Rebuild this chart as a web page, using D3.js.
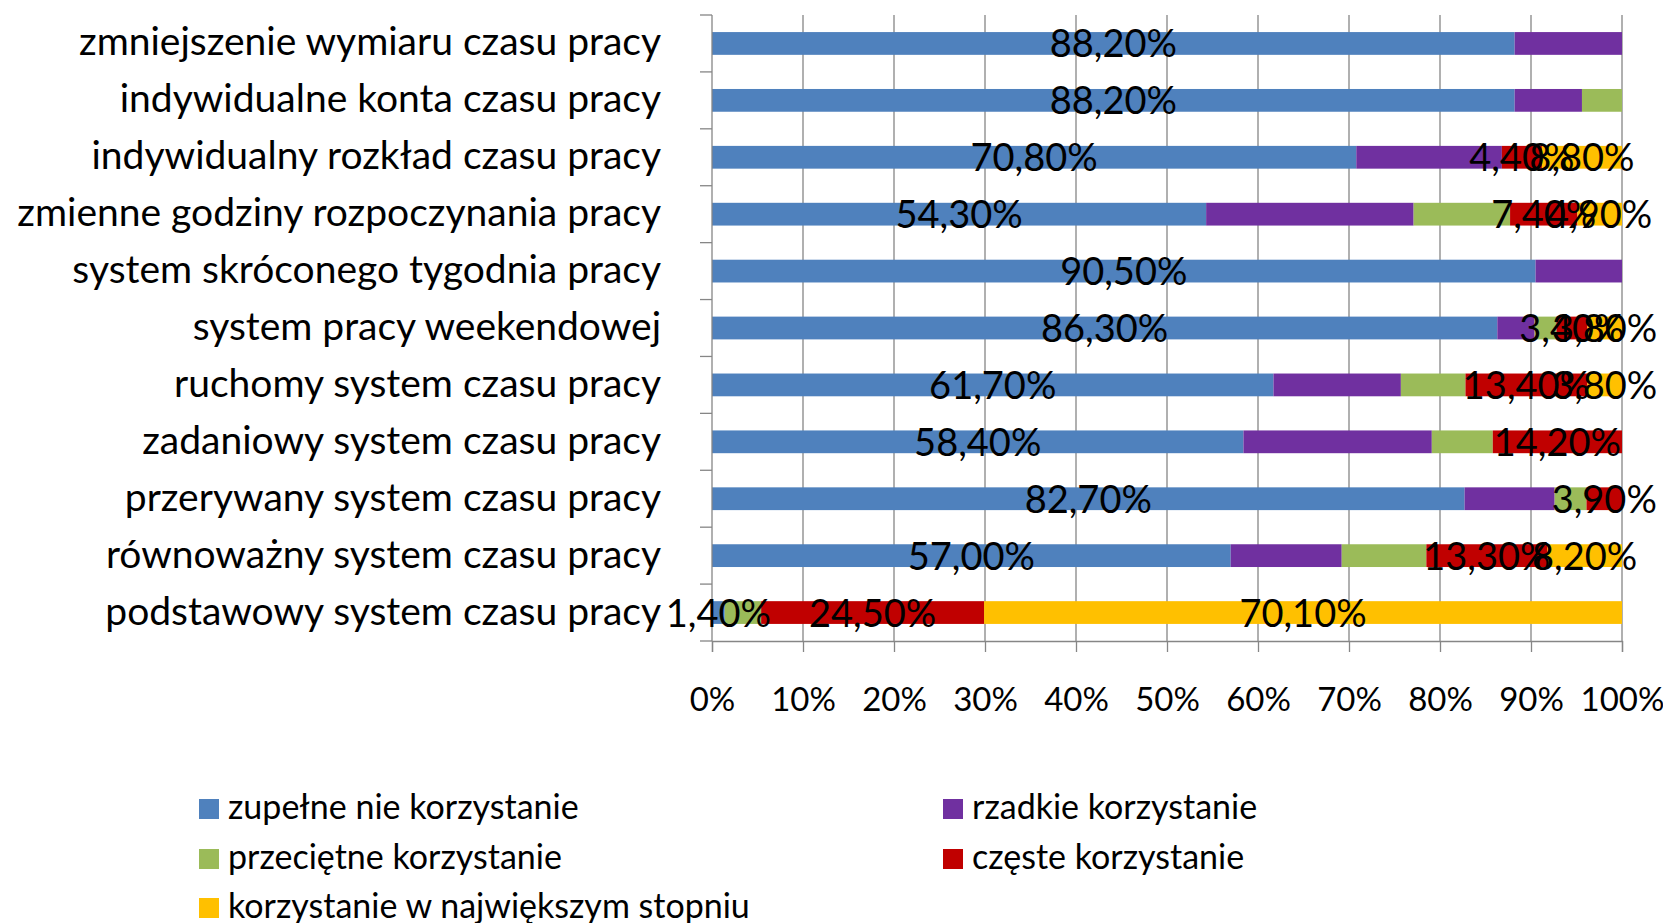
<!DOCTYPE html>
<html>
<head>
<meta charset="utf-8">
<script src="https://cdn.jsdelivr.net/npm/d3@7"></script>
<style>
  body { margin: 0; background: #fff; }
  svg { display: block; font-family: Lato, "Open Sans", sans-serif; }
</style>
</head>
<body>
<script>
// categories top to bottom, as in the chart
const categories = [
  "zmniejszenie wymiaru czasu pracy",
  "indywidualne konta czasu pracy",
  "indywidualny rozkład czasu pracy",
  "zmienne godziny rozpoczynania pracy",
  "system skróconego tygodnia pracy",
  "system pracy weekendowej",
  "ruchomy system czasu pracy",
  "zadaniowy system czasu pracy",
  "przerywany system czasu pracy",
  "równoważny system czasu pracy",
  "podstawowy system czasu pracy"
]

// percentages per series
const zupelneNie  = [88.2, 88.2, 70.8, 54.3, 90.5, 86.3, 61.7, 58.4, 82.7, 57.0, 1.4]
const rzadkie     = [11.8, 7.4, 16.0, 22.8, 9.5, 4.1, 14.0, 20.7, 9.9, 12.2, 0]
const przecietne  = [0, 4.4, 0, 10.6, 0, 2.4, 7.1, 6.7, 3.5, 9.3, 4.0]
const czeste      = [0, 0, 4.4, 7.4, 0, 3.4, 13.4, 14.2, 3.9, 13.3, 24.5]
const najwiekszym = [0, 0, 8.8, 4.9, 0, 3.8, 3.8, 0, 0, 8.2, 70.1]

const seriesNames = [
  "zupełne nie korzystanie",
  "rzadkie korzystanie",
  "przeciętne korzystanie",
  "częste korzystanie",
  "korzystanie w największym stopniu"
]
const seriesValues = [zupelneNie, rzadkie, przecietne, czeste, najwiekszym]
const seriesColors = ["#4F81BD", "#7030A0", "#9BBB59", "#C00000", "#FFC000"]
const seriesLabelled = [true, false, false, true, true]

const tickValues = [0, 10, 20, 30, 40, 50, 60, 70, 80, 90, 100]

const width = 1663
const height = 923

const rows = categories.map((c, i) => {
  const r = { category: c }
  seriesNames.forEach((s, j) => { r[s] = seriesValues[j][i] })
  return r
})

const stacked = d3.stack().keys(seriesNames)(rows)

const x = d3.scaleLinear().domain([0, 100]).range([712, 1622])
const y = d3.scaleBand().domain(categories).range([15, 641])
  .paddingInner(0.6).paddingOuter(0.3)

const svg = d3.select("body").append("svg")
  .attr("width", width)
  .attr("height", height)

const gridColor = "#868686"

// vertical gridlines
svg.append("g").selectAll("line")
  .data(tickValues.slice(1))
  .enter().append("line")
  .attr("x1", d => x(d)).attr("x2", d => x(d))
  .attr("y1", 15).attr("y2", 641)
  .style("stroke", gridColor)
  .style("stroke-width", 1.3)

// bars
const layer = svg.append("g").selectAll("g")
  .data(stacked)
  .enter().append("g")
  .attr("fill", (d, i) => seriesColors[i])

layer.selectAll("rect")
  .data(d => d)
  .enter().append("rect")
  .attr("x", d => x(d[0]))
  .attr("width", d => x(d[1]) - x(d[0]))
  .attr("y", d => y(d.data.category))
  .attr("height", y.bandwidth())

// left axis line and ticks at category boundaries
const boundaries = categories.map(c => y(c) + y.bandwidth() / 2 - y.step() / 2)
boundaries.push(y.range()[1])

svg.append("line")
  .attr("x1", x(0)).attr("x2", x(0))
  .attr("y1", 15).attr("y2", 641)
  .style("stroke", gridColor)
  .style("stroke-width", 1.3)

svg.append("g").selectAll("line")
  .data(boundaries)
  .enter().append("line")
  .attr("x1", x(0) - 12).attr("x2", x(0))
  .attr("y1", d => d).attr("y2", d => d)
  .style("stroke", gridColor)
  .style("stroke-width", 1.3)

svg.append("g").selectAll("text")
  .data(categories)
  .enter().append("text")
  .attr("x", x(0) - 51)
  .attr("y", d => y(d) + y.bandwidth() / 2 + 12)
  .attr("text-anchor", "end")
  .style("font-size", "39px")
  .style("fill", "#000")
  .text(d => d)

// bottom axis
const xAxis = svg.append("g")
  .attr("transform", "translate(0,641)")
  .call(d3.axisBottom(x)
    .tickValues(tickValues)
    .tickFormat(d => d + "%")
    .tickSize(11)
    .tickPadding(36))

xAxis.select(".domain").style("stroke", gridColor).style("stroke-width", 1.3)
xAxis.selectAll(".tick line").style("stroke", gridColor).style("stroke-width", 1.3)
xAxis.selectAll("text")
  .style("font-family", "Lato, sans-serif")
  .style("font-size", "33px")
  .style("fill", "#000")

// data labels, only for some series
const fmt = v => d3.format(".2f")(v).replace(".", ",") + "%"

stacked.forEach((s, i) => {
  if (!seriesLabelled[i]) return
  svg.append("g").selectAll("text")
    .data(s.filter(d => d[1] - d[0] > 0))
    .enter().append("text")
    .attr("x", d => x((d[0] + d[1]) / 2))
    .attr("y", d => y(d.data.category) + y.bandwidth() / 2 + 14)
    .attr("text-anchor", "middle")
    .style("font-size", "38px")
    .style("fill", "#000")
    .text(d => fmt(d[1] - d[0]))
})

// legend
const legendCols = [199, 943]
const legendRows = [799, 849, 898]

const legend = svg.append("g").selectAll("g")
  .data(seriesNames)
  .enter().append("g")
  .attr("transform", (d, i) => `translate(${legendCols[i % 2]},${legendRows[Math.floor(i / 2)]})`)

legend.append("rect")
  .attr("width", 20)
  .attr("height", 20)
  .attr("fill", (d, i) => seriesColors[i])

legend.append("text")
  .attr("x", 29)
  .attr("y", 20)
  .style("font-size", "34px")
  .style("fill", "#000")
  .text(d => d)
</script>
</body>
</html>
